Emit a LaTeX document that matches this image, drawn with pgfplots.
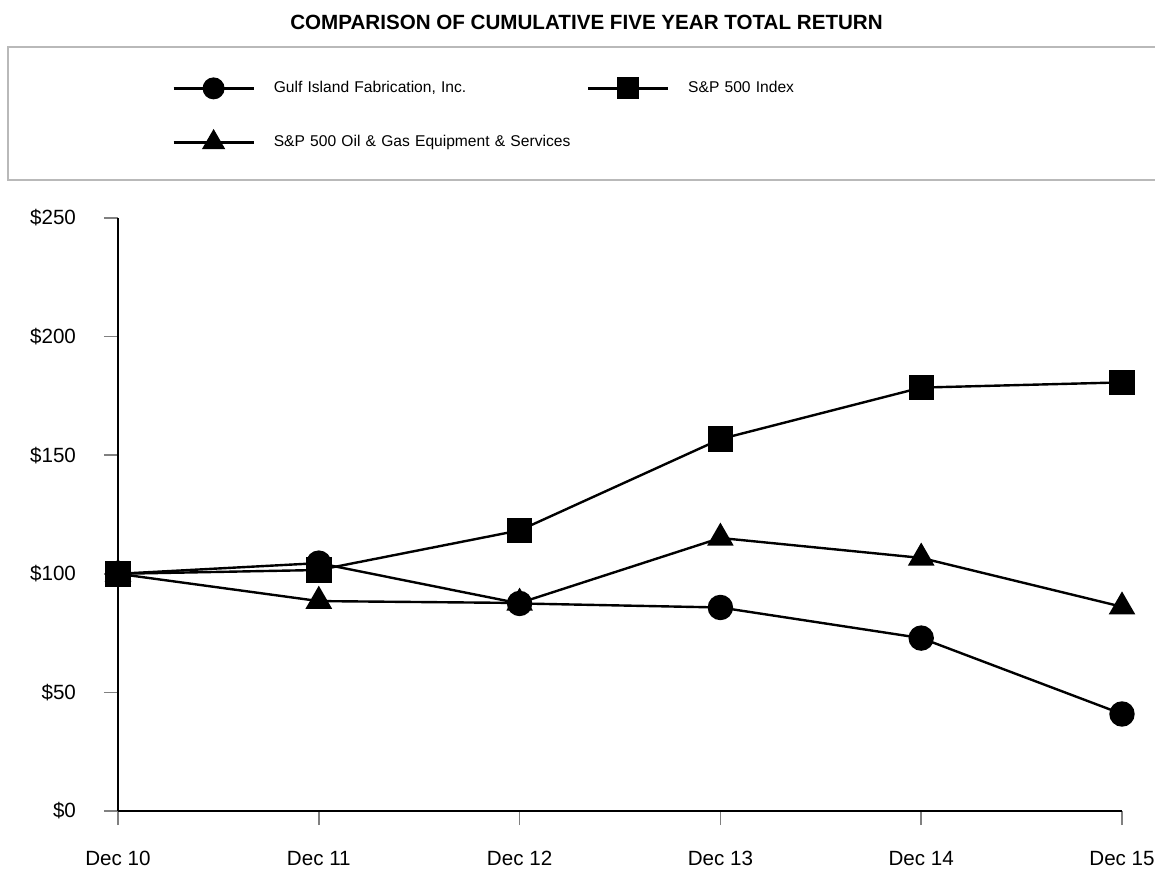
\documentclass[border=0pt]{standalone}
\usepackage{pgfplots}
\pgfplotsset{compat=1.18}
\usepackage{fontspec}
\setmainfont{Liberation Sans}
\begin{document}
\begin{tikzpicture}[x=1pt,y=1pt]
\useasboundingbox (0,0) rectangle (577.5,434);
\draw[gray!55, line width=1.1pt] (4,410.5) rectangle (595,344);
\node[font=\bfseries\fontsize{10.3}{12}\selectfont, anchor=base] at (293.25,419) {COMPARISON OF CUMULATIVE FIVE YEAR TOTAL RETURN};
\begin{axis}[
  at={(59pt,28.5pt)}, anchor=south west,
  scale only axis, width=502pt, height=296.5pt,
  xmin=0, xmax=5, ymin=0, ymax=250,
  axis x line*=bottom, axis y line*=left,
  axis line style={line width=1.4pt, -},
  xtick={0,1,2,3,4,5},
  xticklabels={Dec 10,Dec 11,Dec 12,Dec 13,Dec 14,Dec 15},
  ytick={0,50,100,150,200,250},
  yticklabels={\$0,\$50,\$100,\$150,\$200,\$250},
  tick align=outside, major tick length=7pt,
  tick style={gray, line width=0.8pt},
  ticklabel style={font=\fontsize{10.3}{12}\selectfont},
  yticklabel style={xshift=-10.5pt},
  xticklabel style={yshift=-9.5pt},
  clip=false,
  legend columns=2,
  legend cell align=left,
  legend image code/.code={
    \draw[mark repeat=2,mark phase=2,#1,mark options={scale=0.85,fill=black,solid}] plot coordinates {(0pt,0pt)(20pt,0pt)(40pt,0pt)};
    \path[draw=none,fill=none] (0pt,-6pt) rectangle (40pt,6pt);
  },
  legend style={
    at={(0.05378,1.2395)}, anchor=north west,
    draw=none, fill=none, inner sep=0pt,
    font=\fontsize{7.8}{9}\selectfont,
    nodes={inner sep=0pt, text width=150pt, align=left},
    column sep=0pt, row sep=15pt,
    /tikz/every odd column/.append style={column sep=9.5pt},
    /tikz/every even column/.append style={column sep=6.5pt},
  },
]
\addplot[black, line width=1.2pt, mark=*, mark size=5.75pt, mark options={fill=black}]
  coordinates {(0,100) (1,104.5) (2,87.5) (3,85.8) (4,72.9) (5,40.9)};
\addlegendentry{Gulf Island Fabrication, Inc.}
\addplot[black, line width=1.2pt, mark=square*, mark size=5.75pt, mark options={fill=black}]
  coordinates {(0,100) (1,101.6) (2,118.3) (3,156.8) (4,178.5) (5,180.7)};
\addlegendentry{S\&P 500 Index}
\addplot[black, line width=1.2pt, mark=triangle*, mark size=6.5pt, mark options={fill=black}]
  coordinates {(0,100) (1,88.5) (2,87.7) (3,115.1) (4,106.7) (5,86.1)};
\addlegendentry{S\&P 500 Oil \& Gas Equipment \& Services}
\end{axis}
\end{tikzpicture}
\end{document}
